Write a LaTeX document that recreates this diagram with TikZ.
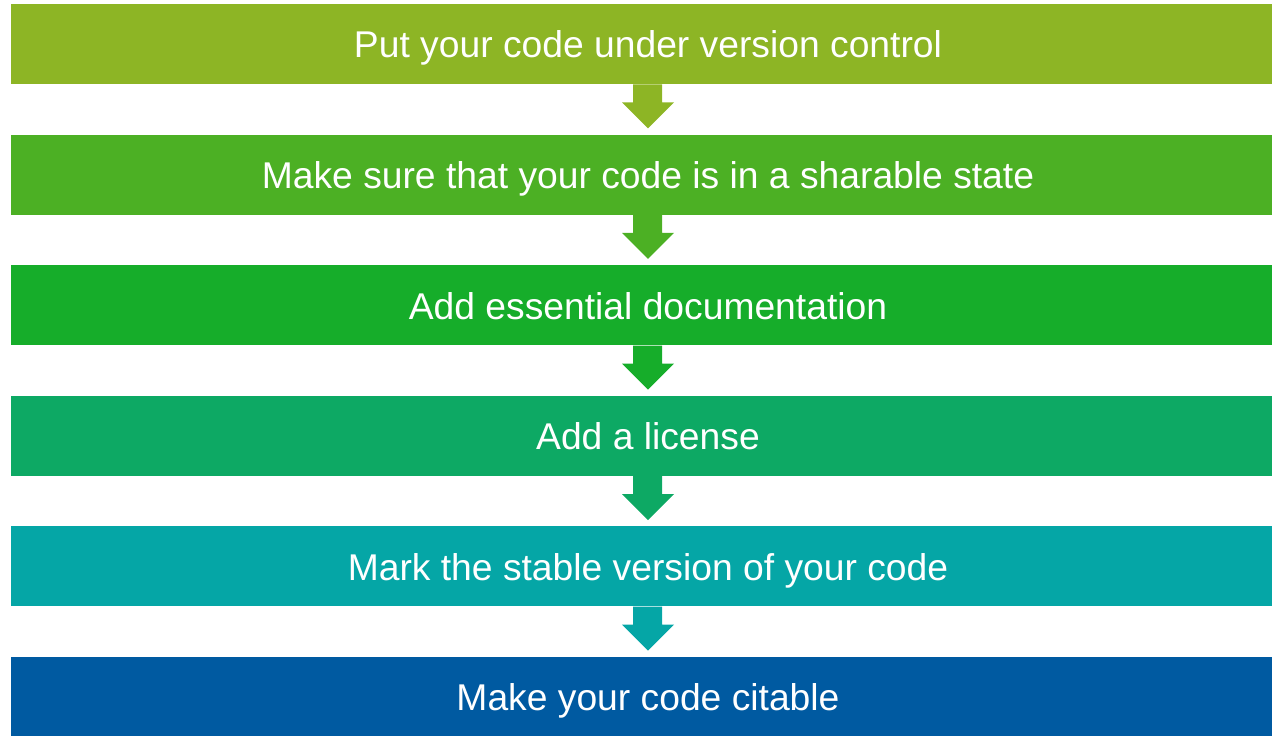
\documentclass[tikz,border=0pt]{standalone}
\usepackage{fontspec}
\setmainfont{Liberation Sans}
\definecolor{stepA}{RGB}{141,181,37}
\definecolor{stepB}{RGB}{76,176,36}
\definecolor{stepC}{RGB}{22,173,42}
\definecolor{stepD}{RGB}{13,169,100}
\definecolor{stepE}{RGB}{5,166,166}
\definecolor{stepF}{RGB}{0,90,161}
\tikzset{
	stepbox/.style={rectangle, inner sep=0pt, minimum width=25.48cm, minimum height=1.6cm,
		text height=17pt, text depth=1.1pt,
		text=white, font=\fontsize{21.2}{25}\selectfont},
	downarrow/.style={fill=#1}
}
\begin{document}
\begin{tikzpicture}[x=0.02cm,y=-0.02cm]
	\useasboundingbox (0,0) rectangle (1272,736);
	\clip (0,0) rectangle (1272,736);
	\node[stepbox, fill=stepA] (put) at (648,44) {Put your code under version control};
	\node[stepbox, fill=stepB] (share) at (648,174.6) {Make sure that your code is in a sharable state};
	\node[stepbox, fill=stepC] (doc) at (648,305.2) {Add essential documentation};
	\node[stepbox, fill=stepD] (lic) at (648,435.8) {Add a license};
	\node[stepbox, fill=stepE] (mark) at (648,566.4) {Mark the stable version of your code};
	\node[stepbox, fill=stepF] (cite) at (648,697) {Make your code citable};
	% arrows between the steps
	\fill[downarrow=stepA, shift={(put.south)}] (-15,0) -- (-15,18) -- (-26,18) -- (0,44) -- (26,18) -- (14,18) -- (14,0) -- cycle;
	\fill[downarrow=stepB, shift={(share.south)}] (-15,0) -- (-15,18) -- (-26,18) -- (0,44) -- (26,18) -- (14,18) -- (14,0) -- cycle;
	\fill[downarrow=stepC, shift={(doc.south)}] (-15,0) -- (-15,18) -- (-26,18) -- (0,44) -- (26,18) -- (14,18) -- (14,0) -- cycle;
	\fill[downarrow=stepD, shift={(lic.south)}] (-15,0) -- (-15,18) -- (-26,18) -- (0,44) -- (26,18) -- (14,18) -- (14,0) -- cycle;
	\fill[downarrow=stepE, shift={(mark.south)}] (-15,0) -- (-15,18) -- (-26,18) -- (0,44) -- (26,18) -- (14,18) -- (14,0) -- cycle;
\end{tikzpicture}
\end{document}
